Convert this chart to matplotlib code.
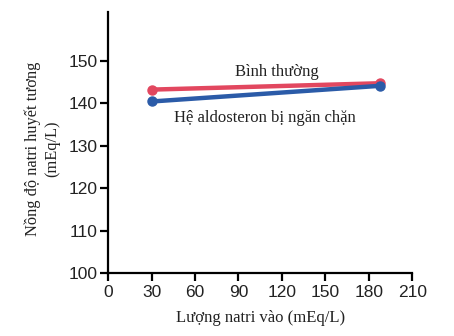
import matplotlib
matplotlib.use("Agg")
import matplotlib.pyplot as plt

# Sodium intake (mEq/L) and plasma sodium concentration (mEq/L)
intake = [30, 188]
normal = [143.2, 144.7]
blocked = [140.4, 144.1]

x_ticks = [0, 30, 60, 90, 120, 150, 180, 210]
y_ticks = [100, 110, 120, 130, 140, 150]

red = "#e2475f"
blue = "#2b5ba8"

fig = plt.figure(figsize=(4.54, 3.36), dpi=100)
ax = fig.add_axes([0.238, 0.1875, 0.67, 0.777])

ax.plot(intake, normal, color=red, lw=3.2, marker="o", ms=6.5, solid_capstyle="round")
ax.plot(intake, blocked, color=blue, lw=3.2, marker="o", ms=6.5, solid_capstyle="round")

ax.set_xlim(0, 210)
ax.set_ylim(100, 161.5)
ax.set_xticks(x_ticks)
ax.set_yticks(y_ticks)
for s in ("top", "right"):
    ax.spines[s].set_visible(False)
for s in ("left", "bottom"):
    ax.spines[s].set_linewidth(1.6)
ax.tick_params(direction="out", length=5.5, width=1.6, labelsize=12.5, pad=2)
ax.tick_params(axis="x", pad=3)
for lab in ax.get_xticklabels() + ax.get_yticklabels():
    lab.set_family("Liberation Sans")
    lab.set_color("#222222")

serif = "Liberation Serif"
ax.text(116.5, 147.4, "Bình thường", family=serif, fontsize=12, ha="center", va="center", color="#222222")
ax.text(108.5, 136.6, "Hệ aldosteron bị ngăn chặn", family=serif, fontsize=12, ha="center", va="center", color="#222222")

ax.set_xlabel("Lượng natri vào (mEq/L)", family=serif, fontsize=12, color="#222222", labelpad=7)
fig.text(42.5 / 454, 1 - 149 / 336, "Nồng độ natri huyết tương\n(mEq/L)", family=serif,
         fontsize=11.8, color="#222222", rotation=90, ha="center", va="center",
         multialignment="center", linespacing=1.3)

fig.savefig("out.png", dpi=100)
